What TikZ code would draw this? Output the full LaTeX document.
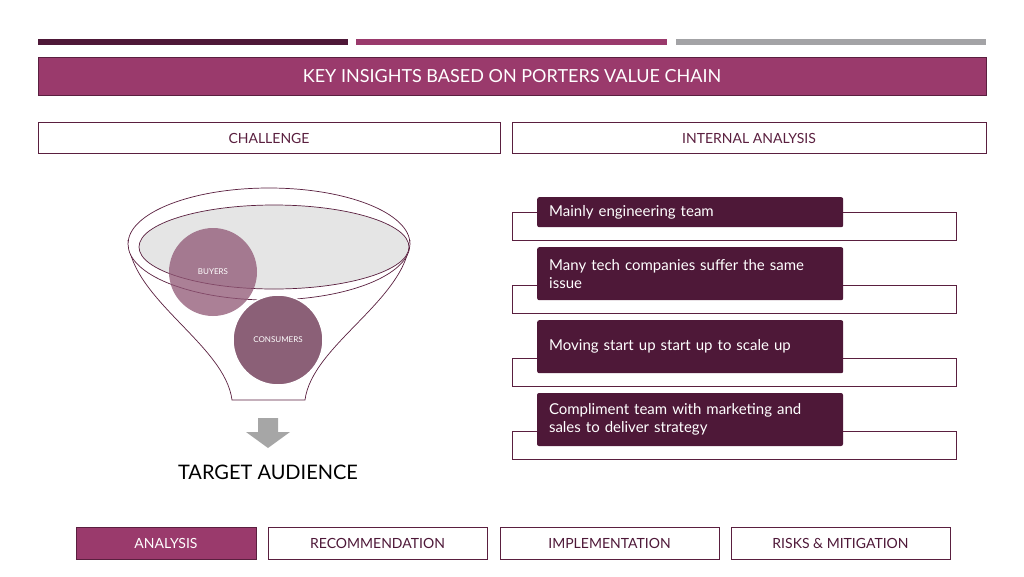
\documentclass[tikz,border=0pt]{standalone}
\usepackage{fontspec}
\setmainfont{Lato}
\definecolor{dk}{HTML}{4E1838}
\definecolor{mg}{HTML}{9A3A6C}
\definecolor{gy}{HTML}{A3A3A6}
\definecolor{ln}{HTML}{5A1F3F}
\begin{document}
\begin{tikzpicture}[x=1pt,y=-1pt,
  hbox/.style={draw=ln,line width=0.8pt,text=ln},
  lbl/.style={fill=dk,rounded corners=2pt,text=white,anchor=north west,minimum width=306pt,align=left,inner xsep=12pt,text width=282pt,font=\fontsize{15}{18}\selectfont},
  tab/.style={draw=ln,line width=0.8pt,text=dk,minimum height=32pt,font=\fontsize{14}{16}\selectfont}]
\useasboundingbox (0,0) rectangle (1024,576);
\fill[dk] (38,39) rectangle (348,45);
\fill[mg] (356,39) rectangle (667,45);
\fill[gy] (676,39) rectangle (986,45);
\node[draw=ln,fill=mg,text=white,minimum width=948pt,minimum height=38pt,font=\fontsize{18}{20}\selectfont] (title) at (512,76) {KEY INSIGHTS BASED ON PORTERS VALUE CHAIN};
\node[hbox,minimum width=462pt,minimum height=31pt,font=\fontsize{14}{16}\selectfont] (ch) at (269,138) {CHALLENGE};
\node[hbox,minimum width=474pt,minimum height=31pt,font=\fontsize{14}{16}\selectfont] (ia) at (749,138) {INTERNAL ANALYSIS};
% funnel
\draw[ln,line width=0.7pt,fill=white] (128,240) .. controls (132,300) and (225,345) .. (232,400) -- (305,400) .. controls (312,345) and (406,300) .. (410,240);
\draw[ln,line width=0.7pt,fill=white] (269,244) ellipse (141pt and 56pt);
\draw[ln,line width=0.7pt,fill=gray!20] (274,247) ellipse (135pt and 42pt);
\node[circle,fill=mg!60!gray,fill opacity=0.75,text opacity=1,minimum size=88pt,font=\fontsize{8}{9}\selectfont,text=white] (buy) at (213,272) {BUYERS};
\node[circle,draw=white,line width=1.5pt,fill=mg!45!gray,minimum size=90pt,font=\fontsize{8}{9}\selectfont,text=white] (con) at (278,340) {CONSUMERS};
\fill[gray!70] (258,418) -- (278,418) -- (278,432) -- (290,432) -- (268,448) -- (246,432) -- (258,432) -- cycle;
\node[font=\fontsize{20}{22}\selectfont] (ta) at (268,472) {TARGET AUDIENCE};
% rows
\foreach \i/\a/\b in {1/212/240,2/285/313,3/358/386,4/431/459}{
  \draw[ln,line width=0.8pt] (512,\a) rectangle (956,\b);}
\node[lbl,minimum height=30pt] (r1) at (537,197) {Mainly engineering team};
\node[lbl,minimum height=53pt] (r2) at (537,247) {Many tech companies suffer the same issue};
\node[lbl,minimum height=53pt] (r3) at (537,320) {Moving start up start up to scale up};
\begin{scope}
\clip (537,393) rectangle (843,446);
\node[lbl,minimum height=53pt,anchor=center] (r4) at (690,419.5) {Compliment team with marketing and sales to deliver strategy};
\end{scope}
\node[tab,fill=mg,text=white,minimum width=180pt] (t1) at (166,543) {ANALYSIS};
\node[tab,minimum width=219pt] (t2) at (377.5,543) {RECOMMENDATION};
\node[tab,minimum width=219pt] (t3) at (609.5,543) {IMPLEMENTATION};
\node[tab,minimum width=219pt] (t4) at (840.5,543) {RISKS \& MITIGATION};
\end{tikzpicture}
\end{document}
